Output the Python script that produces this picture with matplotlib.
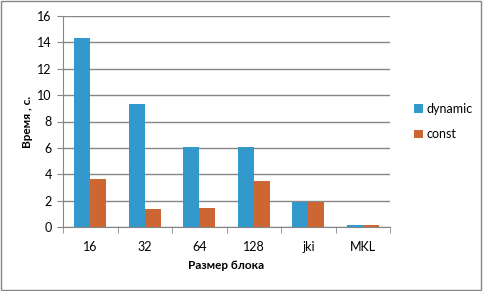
import matplotlib
matplotlib.use('Agg')
import matplotlib.pyplot as plt
import numpy as np

categories = ['16', '32', '64', '128', 'jki', 'MKL']
dynamic = [14.33, 9.33, 6.07, 6.07, 1.9, 0.15]
const = [3.64, 1.36, 1.44, 3.49, 1.9, 0.15]

plt.rcParams['font.family'] = ['Lato', 'DejaVu Sans']

fig = plt.figure(figsize=(4.83, 2.91), dpi=100)
ax = fig.add_axes([63/483, 64/291, 327/483, 211/291])

x = np.arange(len(categories))
w = 0.294
ax.bar(x - w/2, dynamic, w, color='#3399cc', label='dynamic', zorder=3)
ax.bar(x + w/2, const, w, color='#cc6633', label='const', zorder=3)

ax.set_xlim(-0.5, len(categories) - 0.5)
ax.set_ylim(0, 16)
ax.set_yticks(range(0, 17, 2))
ax.yaxis.grid(True, color='#868686', linewidth=1, zorder=0)
ax.set_xticks(x)
ax.set_xticklabels(categories)
ax.set_xticks(np.arange(-0.5, len(categories), 1), minor=True)
ax.tick_params(axis='x', which='major', length=0, pad=10, labelsize=9)
ax.tick_params(axis='x', which='minor', length=4, color='#868686', direction='out')
ax.tick_params(axis='y', length=4, color='#868686', labelsize=9, pad=4)
for s in ['top', 'right']:
    ax.spines[s].set_visible(False)
for s in ['left', 'bottom']:
    ax.spines[s].set_color('#868686')

ax.set_xlabel('Размер блока', fontweight='bold', fontsize=8.5, labelpad=5)
ax.set_ylabel('Время , с.', fontweight='bold', fontsize=8.5, labelpad=3)

ax.legend(loc='center left', bbox_to_anchor=(1.04, 0.5), frameon=False,
          fontsize=9, handlelength=0.7, handleheight=0.7, handletextpad=0.3,
          labelspacing=1.1)

fig.patches.append(plt.Rectangle((0.002, 0.003), 0.993, 0.993, transform=fig.transFigure,
                                 fill=False, edgecolor='#868686', linewidth=1))

fig.savefig('out.png', dpi=100)
